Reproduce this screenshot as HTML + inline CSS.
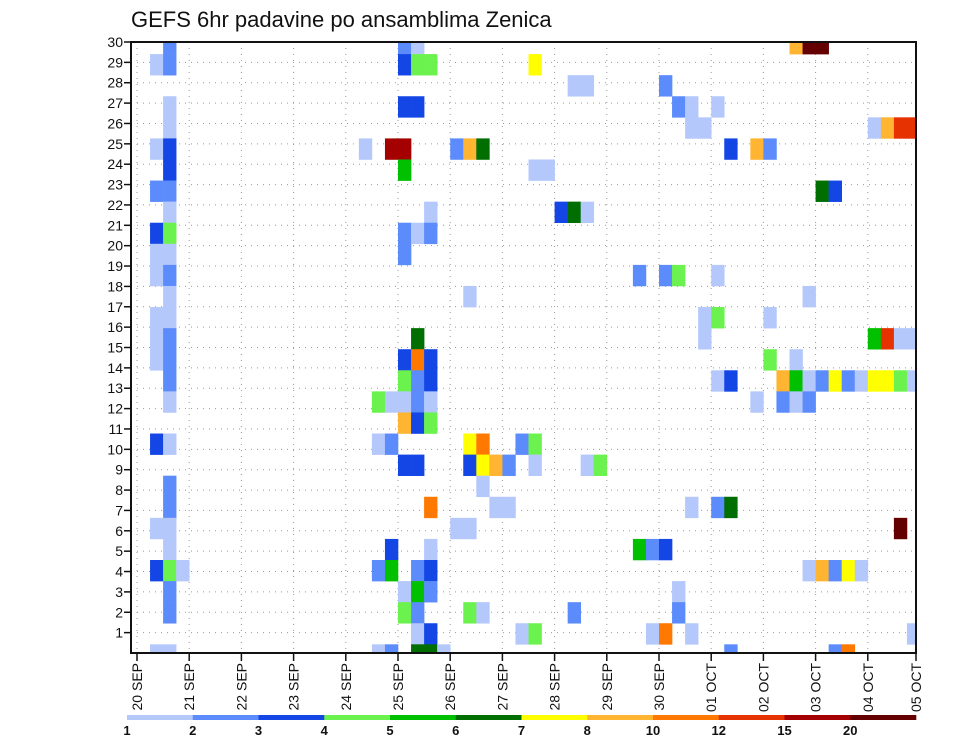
<!DOCTYPE html>
<html><head><meta charset="utf-8"><title>GEFS 6hr padavine</title>
<style>
html,body{margin:0;padding:0;background:#fff;}
svg{display:block;font-family:"Liberation Sans",sans-serif;}
</style></head>
<body>
<svg id="chart" width="960" height="742" viewBox="0 0 960 742" xmlns="http://www.w3.org/2000/svg">
<text x="131" y="27" font-size="22" fill="#111">GEFS 6hr padavine po ansamblima Zenica</text>
<g id="grid"></g>
<g id="cells"></g>
<rect x="131" y="42" width="785" height="611" fill="none" stroke="#111" stroke-width="2"/>
<g id="yaxis"></g>
<g id="xaxis"></g>
<g id="legend"></g>
</svg>
<script>
// ---- data ----
const memberRows = [0,0,0,0,0,0, 1,1,1,1,1,1, 2,2,2, 3,3,3,3,3,3, 4,4,4,4,4,4,4,
5,5,5,5,5,5,5,5,5,5,5, 6,6,6,6, 7,7,7,7, 8,8,8,8,8, 9,9,9,9,9, 10,10,10,
11,11,11,11,11,11, 12,12,12, 13,13,13,13,13, 14,14,14,14,14,14,14,14,
15,15,15,15,15,15,15, 16,16,16,16,16,16,16,16,16,16,16,16,16,16,16,16,16,
17,17,17,17,17,17,17,17,17,17, 18,18,18, 19,19,19,19,19,19,19,19,
20,20,20,20,20,20,20,20,20, 21,21, 22,22,22,22,22,22,22, 23,23,23,23,23,
24,24,24,24,24,24, 25,25,25,25,25,25,25,25,25,25,25,25, 26,26,26,26,26,
27,27,27,27,27,27,27, 28,28,28,28,28,28,28,28, 29,29,29,29,29,29,29,29,29,29];
const timeCols = [2,20,21,50,51,52, 1,2,20,21,22,30, 33,34,40, 2,20,21,41,42,44, 2,42,43,56,57,58,59,
1,2,17,19,20,24,25,26,45,47,48, 2,20,30,31, 1,2,52,53, 2,22,32,33,34, 1,2,20,21,22, 1,2,20,
1,2,38,40,41,44, 2,25,51, 1,2,43,44,48, 1,2,21,43,56,57,58,59,
1,2,20,21,22,48,50, 2,20,21,22,44,45,49,50,51,52,53,54,55,56,57,58,59,
2,18,19,20,21,22,47,49,50,51, 20,21,22, 1,2,18,19,25,26,29,30,
20,21,25,26,27,28,30,34,35, 2,26, 2,22,27,28,42,44,45, 1,2,24,25,58,
2,19,22,38,39,40, 1,2,3,18,19,21,22,51,52,53,54,55, 2,20,21,22,41,
2,20,21,25,26,33,41, 21,22,29,30,39,40,42,59, 1,2,18,19,21,22,23,45,53,54];
const precipClass = [2,2,1,8,12,12, 1,2,3,4,4,7, 1,1,2, 1,3,3,2,1,1, 1,1,1,1,8,10,10,
1,3,1,11,11,2,8,6,3,8,2, 3,5,1,1, 2,2,6,3, 1,1,3,6,1, 3,4,2,1,2, 1,1,2,
1,2,2,2,4,1, 1,1,1, 1,1,1,4,1, 1,2,6,1,5,10,1,1,
1,2,3,9,3,4,1, 2,4,2,3,1,3,8,5,1,2,7,2,1,7,7,4,1,
1,4,1,1,2,1,1,2,1,2, 8,3,4, 3,1,1,2,7,9,2,4,
3,3,3,7,8,2,1,1,4, 2,1, 2,9,1,1,1,2,6, 1,1,1,1,12,
1,3,1,5,2,3, 3,4,1,2,5,2,3,1,8,2,7,1, 2,1,5,2,1,
2,4,2,4,1,2,2, 1,3,1,4,1,9,1,1, 1,1,1,2,6,6,1,2,2,9];
const classColors = ["#b4c8fc","#5c8cfc","#1446e6","#6cf24e","#00c000","#006e00","#ffff00","#ffb432","#ff7800","#e63200","#a50000","#640000"];
const legendLabels = ["1","2","3","4","5","6","7","8","10","12","15","20"];
const dateLabels = ["20 SEP","21 SEP","22 SEP","23 SEP","24 SEP","25 SEP","26 SEP","27 SEP","28 SEP","29 SEP","30 SEP","01 OCT","02 OCT","03 OCT","04 OCT","05 OCT"];
const yTicks = [1,2,3,4,5,6,7,8,9,10,11,12,13,14,15,16,17,18,19,20,21,22,23,24,25,26,27,28,29,30];

// ---- scales ----
const NS="http://www.w3.org/2000/svg";
const L=131,R=916,T=42,B=653;
const x0=137, dayW=52.2, colW=dayW/4;
const rowTop=33, rowH=21.08;
function xCol(c){return x0+c*colW;}
function xDay(d){return Math.min(x0+d*dayW,R);}
function yRow(j){return rowTop+j*rowH;}
function yTick(t){return B-t*(B-T)/30;}
function mk(tag,attrs,parent){const e=document.createElementNS(NS,tag);for(const k in attrs)e.setAttribute(k,attrs[k]);parent.appendChild(e);return e;}

const grid=document.getElementById('grid');
for(let d=0;d<dateLabels.length-1;d++){
  const gl=mk('line',{x1:xDay(d),x2:xDay(d),y1:T,y2:B,stroke:"#999","stroke-width":1,"stroke-dasharray":"1 5"},grid);
  
  
}
for(const t of yTicks){
  const gl=mk('line',{x1:L,x2:R,y1:yTick(t),y2:yTick(t),stroke:"#999","stroke-width":1,"stroke-dasharray":"1 5"},grid);
  
  
}

const cells=document.getElementById('cells');
mk('clipPath',{id:"pc"},cells).appendChild((()=>{const r=document.createElementNS(NS,'rect');r.setAttribute('x',L);r.setAttribute('y',T);r.setAttribute('width',R-L);r.setAttribute('height',B-T);return r;})());
for(let i=0;i<memberRows.length;i++){
  const r=mk('rect',{x:xCol(timeCols[i]),y:yRow(memberRows[i]),width:colW+0.3,height:rowH+0.3,fill:classColors[precipClass[i]-1],"clip-path":"url(#pc)"},cells);
  
  
}

const ya=document.getElementById('yaxis');
for(const t of yTicks){
  const y=yTick(t);
  const tk=mk('line',{x1:L-7,x2:L,y1:y,y2:y,stroke:"#111","stroke-width":1.5},ya);
  
  
  const tx=mk('text',{x:L-8,y:y+5,"font-size":14,"text-anchor":"end",fill:"#111"},ya);
  tx.textContent=t;
  
  
}

const xa=document.getElementById('xaxis');
dateLabels.forEach((lab,d)=>{
  const x=xDay(d);
  const tk=mk('line',{x1:x,x2:x,y1:B,y2:B+8,stroke:"#111","stroke-width":1.5},xa);
  
  
  const tx=mk('text',{x:0,y:0,"font-size":14,"text-anchor":"end",fill:"#111",transform:`translate(${x+5},${B+10}) rotate(-90)`},xa);
  tx.textContent=lab;
  
  
});

const lg=document.getElementById('legend');
const lgL=127,lgR=916,segW=(lgR-lgL)/classColors.length;
classColors.forEach((c,i)=>{
  const r=mk('rect',{x:lgL+i*segW,y:715,width:segW+0.3,height:5,fill:c},lg);
  
  
});
legendLabels.forEach((lab,i)=>{
  const tx=mk('text',{x:lgL+i*segW,y:735,"font-size":13,"font-weight":"bold","text-anchor":"middle",fill:"#111"},lg);
  tx.textContent=lab;
  
  
});
</script>
</body></html>
